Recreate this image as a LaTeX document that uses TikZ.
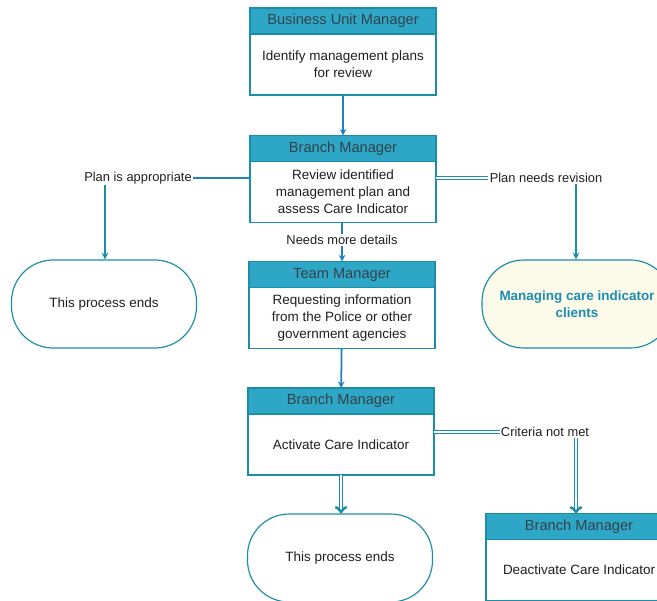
\documentclass[tikz,border=0pt]{standalone}
\usepackage{fontspec}
\setmainfont{Liberation Sans}
\usepackage{xcolor}
\usepackage{tikz}
\usetikzlibrary{arrows,positioning,calc}
\definecolor{ink}{HTML}{1F1F1F}
\definecolor{hdT}{HTML}{34424D}
\definecolor{hdF}{HTML}{2EA7C6}
\definecolor{edg}{HTML}{1C8DA8}
\definecolor{arB}{HTML}{1E7FC5}
\definecolor{crm}{HTML}{FCFAE8}
\definecolor{mgT}{HTML}{1E8DB0}
\tikzset{
  hd/.style   ={draw=edg, fill=hdF, line width=1pt, outer sep=0pt, inner sep=1pt,
                minimum width=55.8mm, minimum height=7.8mm, text=hdT,
                font=\fontsize{12.5}{14}\selectfont},
  bd/.style   ={draw=edg, fill=white, line width=1pt, outer sep=0pt, align=center,
                minimum width=55.8mm, minimum height=18.3mm, text=ink,
                font=\fontsize{11.5}{14.5}\selectfont},
  term/.style ={draw=edg, line width=1pt, rounded corners=12.5mm, align=center,
                minimum width=55.5mm, minimum height=26.4mm, text=ink,
                font=\fontsize{11.5}{14.5}\selectfont},
  lbl/.style  ={font=\fontsize{11}{13}\selectfont, text=ink, inner sep=1pt},
  flow/.style ={->,>=stealth, line width=1.5pt, draw=arB},
  line/.style ={line width=1.5pt, draw=arB},
  tflow/.style={->,>=stealth, line width=1.6pt, draw=edg},
  dbl/.style  ={draw=edg, double=white, double distance=1.1pt, line width=.8pt},
  dflow/.style={dbl, ->, >=to},
}
\begin{document}
\begin{tikzpicture}[x=0.3mm,y=-0.3mm]
  \useasboundingbox (0,0) rectangle (657,600);
  \node[hd] (hd1) at (343,21) {Business Unit Manager};
  \node[bd, below=0pt of hd1] (bd1) {Identify management plans\\for review};
  \node[hd] (hd2) at (343,148.5) {Branch Manager};
  \node[bd, below=0pt of hd2] (bd2) {Review identified\\management plan and\\assess Care Indicator};
  \node[hd] (hd3) at (342,274.5) {Team Manager};
  \node[bd, below=0pt of hd3] (bd3) {Requesting information\\from the Police or other\\government agencies};
  \node[hd] (hd4) at (341,401) {Branch Manager};
  \node[bd, below=0pt of hd4] (bd4) {Activate Care Indicator};
  \node[hd] (hd5) at (579,526.5) {Branch Manager};
  \node[bd, below=0pt of hd5] (bd5) {Deactivate Care Indicator};
  \node[term] (end1) at (104,304) {This process ends};
  \node[term] (end2) at (340,558) {This process ends};
  \node[term, fill=crm, minimum width=57mm, text=mgT,
        font=\fontsize{11.5}{14.5}\selectfont\bfseries] (mgr) at (577,304) {Managing care indicator\\clients};
  \node[lbl] (appr) at (138,178) {Plan is appropriate};
  \node[lbl] (revi) at (546,178) {Plan needs revision};
  \node[lbl] (more) at (342,240) {Needs more details};
  \node[lbl] (crit) at (545,432) {Criteria not met};
  \draw[flow] (bd1) -- (hd2);
  \draw[line] (bd2.west |- appr.east) -- (appr.east);
  \draw[tflow] (appr.south -| {$(end1.north)+(1,0)$}) -- (end1.north -| {$(end1.north)+(1,0)$});
  \draw[dbl] (bd2.east |- revi.west) -- (revi.west);
  \draw[tflow] (revi.south -| mgr.north) ++(-1,0) -- ($(mgr.north)+(-1,0)$);
  \draw[line] (bd2.south -| more.north) -- (more.north);
  \draw[flow] (more.south) -- (hd3.north -| more.south);
  \draw[flow] (bd3) -- (hd4);
  \draw[dbl] (bd4.east |- crit.west) -- (crit.west);
  \draw[dflow] (crit.south -| {$(hd5.north)+(-3,0)$}) -- ($(hd5.north)+(-3,0)$);
  \draw[dflow] (bd4.south) -- (end2.north -| bd4.south);
\end{tikzpicture}
\end{document}
